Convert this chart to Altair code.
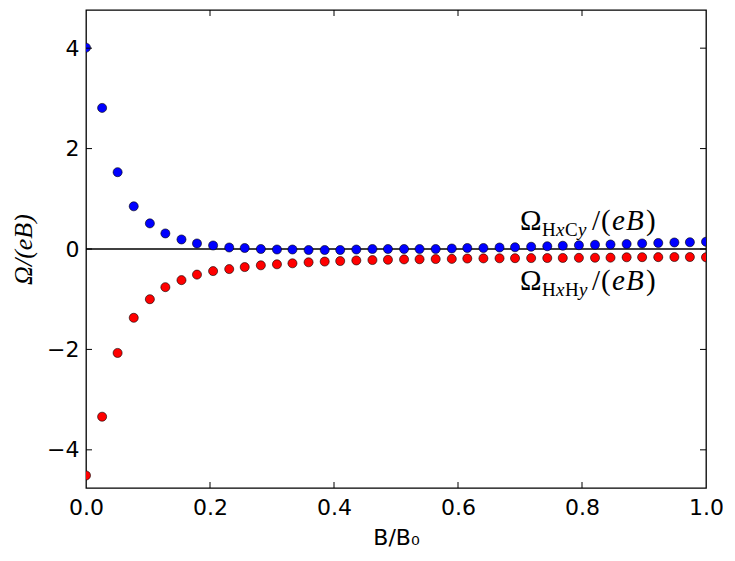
import altair as alt
import pandas as pd

# --- data ---
B_ratio = [0.0, 0.026, 0.051, 0.077, 0.103, 0.128, 0.154, 0.179, 0.205, 0.231,
           0.256, 0.282, 0.308, 0.333, 0.359, 0.385, 0.41, 0.436, 0.462, 0.487,
           0.513, 0.538, 0.564, 0.59, 0.615, 0.641, 0.667, 0.692, 0.718, 0.744,
           0.769, 0.795, 0.821, 0.846, 0.872, 0.897, 0.923, 0.949, 0.974, 1.0]

omega_HxCy = [4.01, 2.81, 1.53, 0.85, 0.51, 0.31, 0.19, 0.11, 0.07, 0.03,
              0.02, 0.0, -0.01, -0.01, -0.02, -0.02, -0.02, -0.01, 0.0, 0.0,
              0.0, 0.0, 0.0, 0.01, 0.02, 0.02, 0.03, 0.035, 0.045, 0.055,
              0.065, 0.075, 0.085, 0.09, 0.10, 0.11, 0.12, 0.13, 0.135, 0.145]

omega_HxHy = [-4.51, -3.34, -2.07, -1.37, -1.00, -0.76, -0.62, -0.51, -0.44, -0.40,
              -0.36, -0.325, -0.305, -0.285, -0.265, -0.25, -0.24, -0.228, -0.22, -0.215,
              -0.207, -0.204, -0.2, -0.197, -0.19, -0.187, -0.185, -0.183, -0.181, -0.18,
              -0.178, -0.176, -0.174, -0.172, -0.165, -0.163, -0.162, -0.16, -0.16, -0.165]

series_names = ["HxCy", "HxHy"]
series_colors = ["#0000ff", "#ff0000"]

x_ticks = [0.0, 0.2, 0.4, 0.6, 0.8, 1.0]
y_ticks = [-4, -2, 0, 2, 4]
x_inner_ticks = [0.2, 0.4, 0.6, 0.8]

label_x = [0.70, 0.70]
label_y = [0.38, -0.81]

W, H = 620, 478
X_DOM = [0, 1]
Y_DOM = [-4.76, 4.76]

df = pd.DataFrame({
    "B": B_ratio * 2,
    "Omega": omega_HxCy + omega_HxHy,
    "series": [series_names[0]] * len(B_ratio) + [series_names[1]] * len(B_ratio),
})

xs = alt.Scale(domain=X_DOM, nice=False, zero=False)
ys = alt.Scale(domain=Y_DOM, nice=False, zero=False)

axis_common = dict(ticks=False, tickSize=0, domain=False, grid=False, labelFlush=False,
                   labelFont="DejaVu Sans", labelFontSize=22, labelColor="black",
                   titleColor="black", titleFontWeight="normal")

points = alt.Chart(df).mark_circle(size=82, opacity=1, stroke="black",
                                   strokeWidth=0.6, clip=True).encode(
    x=alt.X("B:Q", scale=xs,
            axis=alt.Axis(values=x_ticks, format=".1f", labelPadding=9,
                          title="B/B₀", titleFont="DejaVu Sans", titleFontSize=22,
                          titleY=56, titleBaseline="alphabetic", **axis_common)),
    y=alt.Y("Omega:Q", scale=ys,
            axis=alt.Axis(values=y_ticks, format="d", labelPadding=7,
                          title="Ω/(eB)", titleFont="Liberation Serif",
                          titleFontStyle="italic", titleFontSize=26,
                          titleX=-63, titleY=H / 2, titleAngle=-90,
                          titleBaseline="middle", titleAlign="center",
                          **axis_common)),
    color=alt.Color("series:N", scale=alt.Scale(domain=series_names, range=series_colors),
                    legend=None),
)

zero_line = alt.Chart(pd.DataFrame({"y": [0]})).mark_rule(
    color="black", strokeWidth=1.3).encode(y=alt.Y("y:Q", scale=ys))

tx = pd.DataFrame({"t": x_inner_ticks})
ty = pd.DataFrame({"t": y_ticks})
tick_len = 6
ticks = [
    alt.Chart(tx).mark_rule(color="black", strokeWidth=1).encode(
        x=alt.X("t:Q", scale=xs), y=alt.value(H), y2=alt.value(H - tick_len)),
    alt.Chart(tx).mark_rule(color="black", strokeWidth=1).encode(
        x=alt.X("t:Q", scale=xs), y=alt.value(0), y2=alt.value(tick_len)),
    alt.Chart(ty).mark_rule(color="black", strokeWidth=1).encode(
        y=alt.Y("t:Q", scale=ys), x=alt.value(0), x2=alt.value(tick_len)),
    alt.Chart(ty).mark_rule(color="black", strokeWidth=1).encode(
        y=alt.Y("t:Q", scale=ys), x=alt.value(W), x2=alt.value(W - tick_len)),
]

# annotation segments: (text, dx, dy, size, style)
MAIN, SUB = 29, 19
top_segments = [("Ω", 0, 0, MAIN, "normal"), ("H", 22, 6, SUB, "normal"),
                ("x", 36, 6, SUB, "italic"), ("C", 45, 6, SUB, "normal"),
                ("y", 58, 6, SUB, "italic"), ("/", 72, 0, MAIN, "normal"),
                ("(", 81, 0, MAIN, "normal"), ("e", 92, 0, MAIN, "italic"),
                ("B", 106, 0, MAIN, "italic"), (")", 126, 0, MAIN, "normal")]
bot_segments = [("Ω", 0, 0, MAIN, "normal"), ("H", 22, 6, SUB, "normal"),
                ("x", 36, 6, SUB, "italic"), ("H", 45, 6, SUB, "normal"),
                ("y", 59, 6, SUB, "italic"), ("/", 72, 0, MAIN, "normal"),
                ("(", 81, 0, MAIN, "normal"), ("e", 92, 0, MAIN, "italic"),
                ("B", 106, 0, MAIN, "italic"), (")", 126, 0, MAIN, "normal")]

texts = []
for i, segs in enumerate([top_segments, bot_segments]):
    pos = pd.DataFrame({"x": [label_x[i]], "y": [label_y[i]]})
    for (t, dx, dy, sz, st) in segs:
        texts.append(
            alt.Chart(pos).mark_text(text=t, align="left", baseline="alphabetic",
                                     dx=dx, dy=dy, fontSize=sz, fontStyle=st,
                                     font="Liberation Serif", color="black").encode(
                x=alt.X("x:Q", scale=xs), y=alt.Y("y:Q", scale=ys)))

chart = alt.layer(zero_line, points, *ticks, *texts).properties(
    width=W, height=H,
    background="white",
    autosize=alt.AutoSizeParams(type="none"),
    padding={"left": 78, "top": 2, "right": 17, "bottom": 64},
).configure_view(stroke="black", strokeWidth=1.3)

chart.save("out.html", embed_options={"renderer": "svg", "actions": False})
